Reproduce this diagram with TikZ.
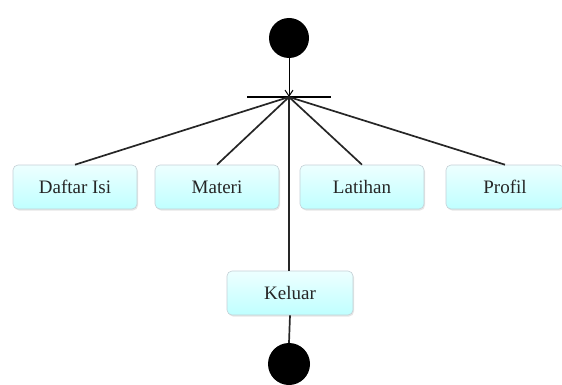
\documentclass[tikz,border=0pt]{standalone}
\usepackage{fontspec}
\setmainfont{Liberation Serif}
\usetikzlibrary{arrows.meta,shadows}
\begin{document}
\begin{tikzpicture}[x=1pt,y=-1pt,
  actbox/.style={draw=cyan!20!gray!45, line width=0.6pt, rounded corners=5pt,
    top color=cyan!7, bottom color=cyan!25, minimum width=124pt, minimum height=44pt,
    font=\fontsize{19}{21}\selectfont, text=black!85,
    drop shadow={shadow xshift=1pt, shadow yshift=-1.5pt, opacity=0.2}},
  dot/.style={circle, fill=black, minimum size=40pt, inner sep=0pt},
  conn/.style={line width=1.7pt, black!85}]
\useasboundingbox (0,0) rectangle (562,385);
\node[dot] (start) at (289,38) {};
\coordinate (fork) at (289,97);
\coordinate (barL) at (247,97);
\coordinate (barR) at (331,97);
\draw[line width=1.2pt] (barL) -- (barR);
\draw[line width=1pt, -{Straight Barb[length=6pt,width=8pt]}] (start.south) -- (fork);
\node[actbox] (daftar) at (75,187) {Daftar Isi};
\node[actbox] (materi) at (217,187) {Materi};
\node[actbox] (latihan) at (362,187) {Latihan};
\node[actbox, minimum width=118pt] (profil) at (505,187) {Profil};
\node[actbox, minimum width=126pt] (keluar) at (290,293) {Keluar};
\node[dot, minimum size=42pt] (end) at (289,364) {};
\draw[conn] (fork) -- (daftar.north);
\draw[conn] (fork) -- (materi.north);
\draw[conn] (fork) -- (latihan.north);
\draw[conn] (fork) -- (profil.north);
\draw[conn] (fork) -- (fork |- keluar.north);
\draw[conn] (keluar.south) -- (end.north);
\end{tikzpicture}
\end{document}
